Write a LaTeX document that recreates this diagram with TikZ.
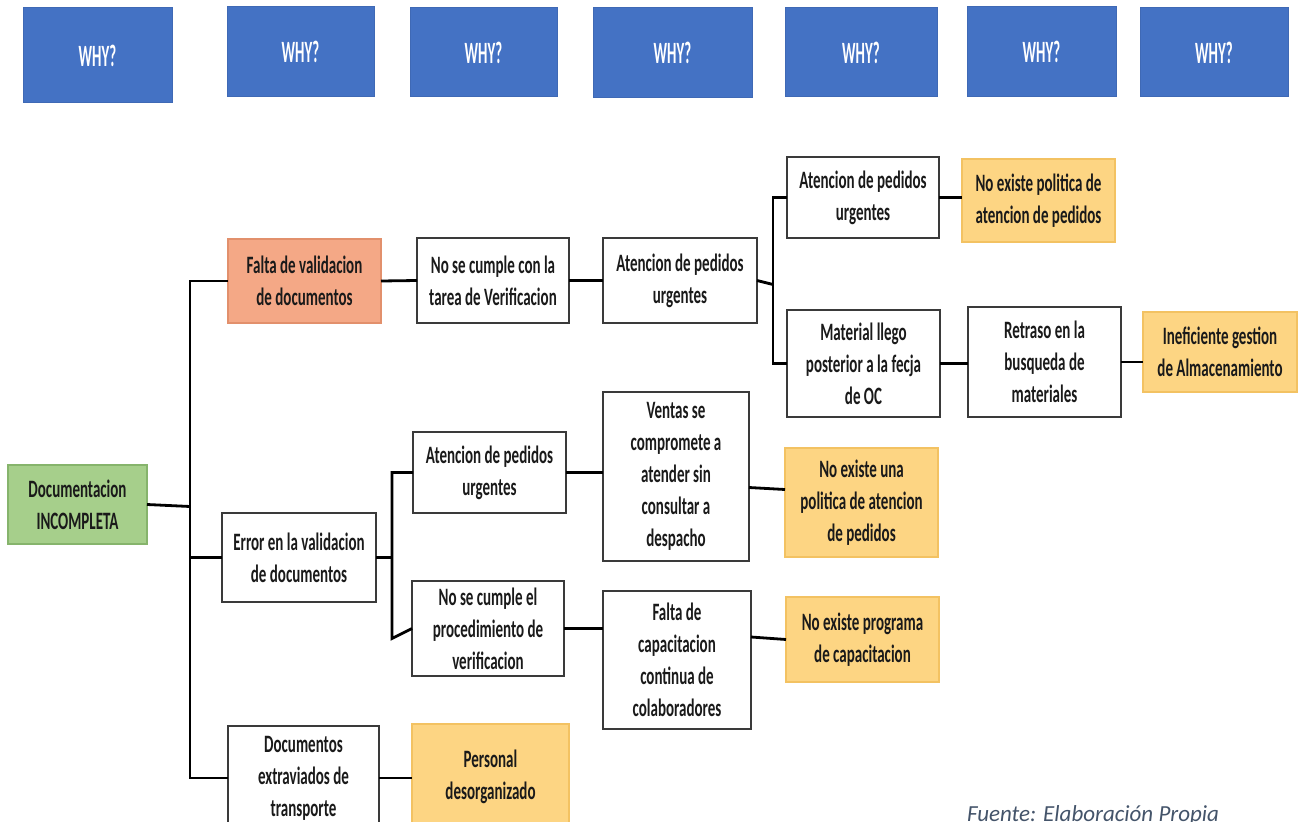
\documentclass[tikz,border=0pt]{standalone}
\usepackage{fontspec}
\setmainfont{Carlito}
\newfontfamily\boxface[FakeStretch=0.6]{Carlito}
\newfontfamily\whyface[FakeStretch=0.48]{Carlito}
\newfontfamily\noteface{Carlito}

\definecolor{whyblue}{HTML}{4472C4}
\definecolor{whyedge}{HTML}{3F69B5}
\definecolor{boxedge}{HTML}{3A3A3A}
\definecolor{textgray}{HTML}{1A1A1A}
\definecolor{rootfill}{HTML}{A6CF8B}
\definecolor{rootedge}{HTML}{86B46C}
\definecolor{firstfill}{HTML}{F4A886}
\definecolor{firstedge}{HTML}{E2906C}
\definecolor{goldfill}{HTML}{FDD583}
\definecolor{goldedge}{HTML}{F3C262}
\definecolor{notecolor}{HTML}{44546A}

\begin{document}
\begin{tikzpicture}[x=1pt,y=-1pt,
  every node/.style={inner sep=0pt, outer sep=0pt},
  sz/.style 2 args={minimum width=#1pt, minimum height=#2pt},
  why/.style={fill=whyblue, draw=whyedge, line width=1pt, text=white,
    font=\whyface\bfseries\fontsize{31}{32}\selectfont},
  cause/.style={draw=boxedge, line width=1.8pt, fill=white, align=center,
    text=textgray, font=\boxface\bfseries\fontsize{25}{32}\selectfont},
  rootbox/.style={cause, fill=rootfill, draw=rootedge},
  firstbox/.style={cause, fill=firstfill, draw=firstedge},
  rootcause/.style={cause, fill=goldfill, draw=goldedge},
  link/.style={line width=2.8pt, black}
]
\useasboundingbox (0,0) rectangle (1305,821);
\clip (0,0) rectangle (1305,821);

% header row
\node[why, sz={149}{95}] (w1) at (97.5,55.5) {WHY?};
\node[why, sz={147}{90}] (w2) at (300.5,52) {WHY?};
\node[why, sz={147}{89}] (w3) at (483.5,52.5) {WHY?};
\node[why, sz={159}{90}] (w4) at (672.5,53) {WHY?};
\node[why, sz={152}{89}] (w5) at (861,52.5) {WHY?};
\node[why, sz={149}{90}] (w6) at (1041.5,52) {WHY?};
\node[why, sz={148}{89}] (w7) at (1214,52.5) {WHY?};

% problem
\node[rootbox, sz={139}{79}] (root) at (77.5,504.5) {Documentacion\\INCOMPLETA};

% first level
\node[firstbox, sz={153}{84}] (falta) at (304.5,281) {Falta de validacion\\de documentos};
\node[cause, sz={154}{89}] (error) at (299,557.5) {Error en la validacion\\de documentos};
\node[cause, sz={151}{104}] (docext) at (303.5,778) {Documentos\\extraviados de\\transporte};

% upper branch
\node[cause, sz={152}{85}] (verif) at (493,280.5) {No se cumple con la\\tarea de Verificacion};
\node[cause, sz={154}{85}] (aten1) at (680,280.5) {Atencion de pedidos\\urgentes};
\node[cause, sz={152}{81}] (aten2) at (863,197.5) {Atencion de pedidos\\urgentes};
\node[rootcause, sz={153}{83}] (nopol1) at (1038.5,200.5) {No existe politica de\\atencion de pedidos};
\node[cause, sz={153}{107}] (material) at (863.5,363.5) {Material llego\\posterior a la fecja\\de OC};
\node[cause, sz={153}{110}] (retraso) at (1044.5,362) {Retraso en la\\busqueda de\\materiales};
\node[rootcause, sz={154}{80}] (inef) at (1220,352) {Ineficiente gestion\\de Almacenamiento};

% middle branch
\node[cause, sz={153}{81}] (aten3) at (489.5,472.5) {Atencion de pedidos\\urgentes};
\node[cause, sz={152}{95}] (procver) at (488,628.5) {No se cumple el\\procedimiento de\\verificacion};
\node[cause, sz={146}{169}] (ventas) at (676,476.5) {Ventas se\\compromete a\\atender sin\\consultar a\\despacho};
\node[rootcause, sz={153}{109}] (nopol2) at (861.5,502.5) {No existe una\\politica de atencion\\de pedidos};
\node[cause, sz={148}{138}] (capac) at (677,660) {Falta de\\capacitacion\\continua de\\colaboradores};
\node[rootcause, sz={153}{85}] (noprog) at (862.5,639.5) {No existe programa\\de capacitacion};

% lower branch
\node[rootcause, sz={157}{106}] (personal) at (490.5,777) {Personal\\desorganizado};

% bracket spines
\coordinate (trunk) at (190,0);
\coordinate (b1) at (773,0);
\coordinate (b2) at (392,0);

% connectors
\draw[link] (root.east) -- ([yshift=-2pt]trunk |- root.east);
\draw[link] (falta.west) -| (trunk |- docext.west) -- (docext.west);
\draw[link] (error.west) -- (trunk |- error.west);
\draw[link] (falta.east) -- (verif.west);
\draw[link] (verif.east) -- (aten1.west);
\draw[link] (aten1.east) -- ([yshift=-4pt]b1 |- aten1.east);
\draw[link] (aten2.west) -| (b1 |- material.west) -- (material.west);
\draw[link] (aten2.east) -- (nopol1.west |- aten2.east);
\draw[link] (material.east) -- (retraso.west |- material.east);
\draw[link] (retraso.east) -- (inef.west |- retraso.east);
\draw[link] (error.east) -- (b2 |- error.east);
\draw[link] (aten3.west) -| ([yshift=-10pt]b2 |- procver.west) -- (procver.west);
\draw[link] (aten3.east) -- (ventas.west |- aten3.east);
\draw[link] (procver.east) -- (capac.west |- procver.east);
\draw[link] ([yshift=-11pt]ventas.east) -- ([yshift=13pt]nopol2.west);
\draw[link] ([yshift=23pt]capac.east) -- (noprog.west -| noprog.west);
\draw[link] (docext.east) -- (personal.west |- docext.east);

% source note
\node[anchor=base west, text=notecolor, font=\noteface\itshape\fontsize{23}{26}\selectfont]
  (note) at (967,821) {Fuente: Elaboración Propia};
\end{tikzpicture}
\end{document}
